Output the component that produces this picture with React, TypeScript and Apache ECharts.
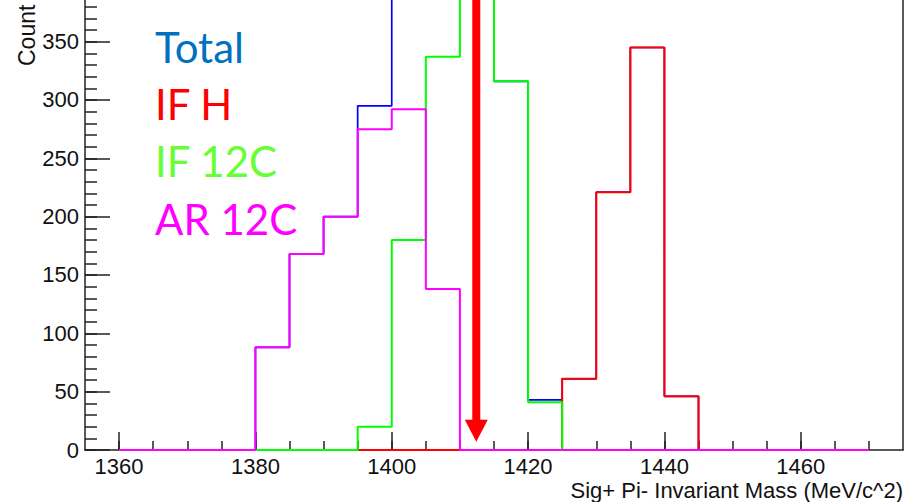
import React, { useEffect, useRef } from 'react';
import * as echarts from 'echarts';

// Histogram bins: lower edges (MeV/c^2), each bin 5 wide
const binLowEdges = [
  1360, 1365, 1370, 1375, 1380, 1385, 1390, 1395, 1400, 1405, 1410,
  1415, 1420, 1425, 1430, 1435, 1440, 1445, 1450, 1455, 1460, 1465,
];
const binWidth = 5;

const totalCounts = [0, 0, 0, 0, 88, 168, 200, 295, 472, 475, 520, 316, 43, 61, 221, 345, 46, 0, 0, 0, 0, 0];
const ifHCounts = [0, 0, 0, 0, 0, 0, 0, 0, 0, 0, 0, 0, 0, 61, 221, 345, 46, 0, 0, 0, 0, 0];
const if12CCounts = [0, 0, 0, 0, 0, 0, 0, 20, 180, 337, 520, 316, 41, 0, 0, 0, 0, 0, 0, 0, 0, 0];
const ar12CCounts = [0, 0, 0, 0, 88, 168, 200, 275, 292, 138, 0, 0, 0, 0, 0, 0, 0, 0, 0, 0, 0, 0];

const legendLabels = ['Total', 'IF H', 'IF 12C', 'AR 12C'];
const legendColors = ['#0070C0', '#FF0000', '#66FF33', '#FF00FF'];
const lineColors = ['#0000FF', '#FF0000', '#00FF00', '#FF00FF'];
const lineWidths = [1.7, 2, 2, 2];

const xMajorTicks = [1360, 1380, 1400, 1420, 1440, 1460];
const xMinorTicks = [
  1360, 1365, 1370, 1375, 1380, 1385, 1390, 1395, 1400, 1405, 1410, 1415,
  1420, 1425, 1430, 1435, 1440, 1445, 1450, 1455, 1460, 1465, 1470,
];
const yMajorTicks = [0, 50, 100, 150, 200, 250, 300, 350];
const yMinorTicks = [
  0, 10, 20, 30, 40, 50, 60, 70, 80, 90, 100, 110, 120, 130, 140, 150, 160, 170, 180, 190,
  200, 210, 220, 230, 240, 250, 260, 270, 280, 290, 300, 310, 320, 330, 340, 350, 360, 370, 380,
];

// Arrow marker at the mass value (from above the frame down to the tip count)
const arrowMass = 1412.4;
const arrowTopCount = 400;
const arrowTipCount = 7;

const xTitle = 'Sig+ Pi- Invariant Mass (MeV/c^2)';
const yTitle = 'Count';

function stepData(values: number[]) {
  const pts: number[][] = binLowEdges.map((x, i) => [x, values[i]]);
  const last = binLowEdges.length - 1;
  pts.push([binLowEdges[last] + binWidth, values[last]]);
  return pts;
}

export default function App() {
  const ref = useRef<HTMLDivElement>(null);

  useEffect(() => {
    document.body.style.margin = '0';
    const chart = echarts.init(ref.current!, null, { renderer: 'svg' });
    const axisColor = '#222';
    const labelFont = { fontSize: 22, fontFamily: 'Liberation Sans', color: '#111' };
    const plain = (v: number) => String(v);

    const histSeries = [totalCounts, ifHCounts, if12CCounts, ar12CCounts].map((vals, i) => ({
      type: 'line',
      name: legendLabels[i],
      xAxisIndex: 0,
      yAxisIndex: 0,
      step: 'end',
      showSymbol: false,
      symbol: 'none',
      clip: true,
      data: stepData(vals),
      lineStyle: { color: lineColors[i], width: lineWidths[i] },
      itemStyle: { color: lineColors[i] },
    }));

    const legendY = [47, 104, 161, 219];

    chart.setOption({
      animation: false,
      backgroundColor: '#fff',
      grid: { left: 85, right: 20, top: 0, bottom: 52, containLabel: false },
      xAxis: [
        {
          type: 'value',
          min: 1355,
          max: 1475,
          position: 'bottom',
          axisLine: { show: true, onZero: false, lineStyle: { color: axisColor, width: 1.5 } },
          axisTick: { show: true, inside: true, length: 18, customValues: xMajorTicks, lineStyle: { color: axisColor, width: 1.5 } },
          axisLabel: { show: true, customValues: xMajorTicks, margin: 5, formatter: plain, ...labelFont },
          splitLine: { show: false },
        },
        {
          type: 'value',
          min: 1355,
          max: 1475,
          position: 'bottom',
          axisLine: { show: false },
          axisTick: { show: true, inside: true, length: 9, customValues: xMinorTicks, lineStyle: { color: axisColor, width: 1.5 } },
          axisLabel: { show: false },
          splitLine: { show: false },
        },
      ],
      yAxis: [
        {
          type: 'value',
          min: 0,
          max: 385.7,
          position: 'left',
          axisLine: { show: true, onZero: false, lineStyle: { color: axisColor, width: 1.5 } },
          axisTick: { show: true, inside: true, length: 25, customValues: yMajorTicks, lineStyle: { color: axisColor, width: 1.5 } },
          axisLabel: { show: true, customValues: yMajorTicks, margin: 6, formatter: plain, ...labelFont },
          splitLine: { show: false },
        },
        {
          type: 'value',
          min: 0,
          max: 385.7,
          position: 'left',
          axisLine: { show: false },
          axisTick: { show: true, inside: true, length: 12, customValues: yMinorTicks, lineStyle: { color: axisColor, width: 1.5 } },
          axisLabel: { show: false },
          splitLine: { show: false },
        },
        {
          type: 'value',
          min: 0,
          max: 385.7,
          position: 'right',
          axisLine: { show: true, onZero: false, lineStyle: { color: axisColor, width: 1.5 } },
          axisTick: { show: false },
          axisLabel: { show: false },
          splitLine: { show: false },
        },
      ],
      series: [
        ...histSeries,
        {
          type: 'custom',
          xAxisIndex: 0,
          yAxisIndex: 0,
          clip: false,
          data: [[arrowMass, arrowTopCount, arrowTipCount]],
          renderItem: (params: any, api: any) => {
            const top = api.coord([api.value(0), api.value(1)]);
            const tip = api.coord([api.value(0), api.value(2)]);
            const headLen = 22;
            const headHalf = 11.5;
            const shaftHalf = 4;
            return {
              type: 'group',
              children: [
                {
                  type: 'rect',
                  shape: { x: tip[0] - shaftHalf, y: top[1], width: shaftHalf * 2, height: tip[1] - headLen - top[1] + 1 },
                  style: { fill: '#FF0000' },
                },
                {
                  type: 'polygon',
                  shape: {
                    points: [
                      [tip[0] - headHalf, tip[1] - headLen],
                      [tip[0] + headHalf, tip[1] - headLen],
                      [tip[0], tip[1]],
                    ],
                  },
                  style: { fill: '#FF0000' },
                },
              ],
            };
          },
        },
      ],
      graphic: [
        ...legendLabels.map((t, i) => ({
          type: 'text',
          x: 155,
          y: legendY[i],
          style: {
            text: t,
            fill: legendColors[i],
            fontSize: 42,
            fontFamily: 'Lato',
            align: 'left',
            textAlign: 'left',
            verticalAlign: 'middle',
            textVerticalAlign: 'middle',
          },
        })),
        {
          type: 'text',
          x: 903,
          y: 490,
          style: {
            text: xTitle,
            fill: '#111',
            fontSize: 22,
            fontFamily: 'Liberation Sans',
            align: 'right',
            textAlign: 'right',
            verticalAlign: 'middle',
            textVerticalAlign: 'middle',
          },
        },
        {
          type: 'text',
          x: 27,
          y: 66,
          rotation: Math.PI / 2,
          style: {
            text: yTitle,
            fill: '#111',
            fontSize: 23,
            fontFamily: 'Liberation Sans',
            align: 'left',
            textAlign: 'left',
            verticalAlign: 'middle',
            textVerticalAlign: 'middle',
          },
        },
      ],
    });
    return () => chart.dispose();
  }, []);

  return (
    <div
      ref={ref}
      style={{ position: 'fixed', left: 0, top: 0, width: 923, height: 502, background: '#fff' }}
    />
  );
}
